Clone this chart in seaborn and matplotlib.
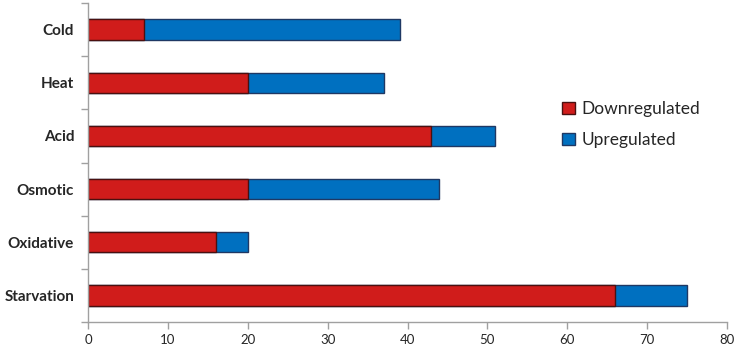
import matplotlib
matplotlib.use("Agg")
import matplotlib.pyplot as plt
import seaborn as sns
import pandas as pd
from matplotlib.patches import Patch
from matplotlib.ticker import FixedLocator

categories = ["Cold", "Heat", "Acid", "Osmotic", "Oxidative", "Starvation"]
downregulated = [7, 20, 43, 20, 16, 66]
upregulated = [32, 17, 8, 24, 4, 9]
xticks = [0, 10, 20, 30, 40, 50, 60, 70, 80]

sns.set_theme(style="white")
plt.rcParams["font.family"] = ["Lato", "DejaVu Sans"]

totals = [d + u for d, u in zip(downregulated, upregulated)]
df = pd.DataFrame({"category": categories, "down": downregulated, "total": totals})

red = "#D01C1B"
blue = "#0070C0"

fig = plt.figure(figsize=(7.37, 3.49), dpi=100)
ax = fig.add_axes([88 / 737, 27 / 349, 639 / 737, 319 / 349])

sns.barplot(data=df, y="category", x="total", order=categories, color=blue,
            saturation=1, width=0.38, edgecolor="#1F3864", linewidth=1.0, ax=ax)
sns.barplot(data=df, y="category", x="down", order=categories, color=red,
            saturation=1, width=0.38, edgecolor="#4A1010", linewidth=1.0, ax=ax)

ax.set_xlim(0, 80)
ax.set_ylim(5.5, -0.5)
ax.set_xticks(xticks)
ax.set_xticklabels([str(t) for t in xticks], fontsize=9.5)
ax.set_xlabel("")
ax.set_ylabel("")
ax.set_yticks(range(len(categories)))
ax.set_yticklabels(categories, fontsize=11, fontweight="bold")
ax.yaxis.set_minor_locator(FixedLocator([-0.5 + i for i in range(len(categories) + 1)]))
ax.tick_params(axis="y", which="major", length=0, pad=10)
ax.tick_params(axis="y", which="minor", length=5, color="#A0A0A0", width=1, direction="out", left=True)
ax.tick_params(axis="x", which="major", length=5, color="#A0A0A0", width=1, direction="out", bottom=True, pad=4)

for s in ["top", "right"]:
    ax.spines[s].set_visible(False)
for s in ["left", "bottom"]:
    ax.spines[s].set_color("#A0A0A0")
    ax.spines[s].set_linewidth(1)

handles = [Patch(facecolor=red, edgecolor="#4A1010", label="Downregulated"),
           Patch(facecolor=blue, edgecolor="#1F3864", label="Upregulated")]
ax.legend(handles=handles, loc="upper left", bbox_to_anchor=(0.718, 0.742), frameon=False,
          fontsize=12.5, handlelength=0.7, handleheight=0.7, handletextpad=0.4, labelspacing=0.85)

fig.savefig("out.png", dpi=100)
